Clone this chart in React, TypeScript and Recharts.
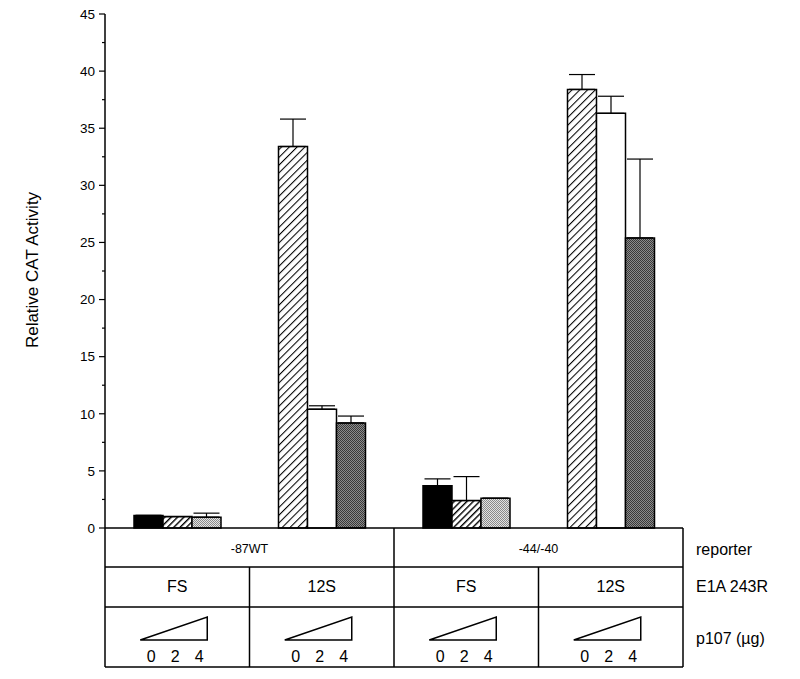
// CAT activity bar chart with reporter / E1A / p107 table underneath
import { BarChart, Bar, XAxis, YAxis, Cell, ErrorBar } from 'recharts';

const categories = ['-87WT FS', '-87WT 12S', '-44/-40 FS', '-44/-40 12S'];
const reporters = ['-87WT', '-44/-40'];
const e1aLabels = ['FS', '12S', 'FS', '12S'];
const doseLabels = ['0', '2', '4'];

// p107 0 / 2 / 4 ug
const dose0 = [1.1, 33.4, 3.7, 38.4];
const dose0Err = [0, 2.4, 0.6, 1.3];
const dose2 = [1.0, 10.4, 2.4, 36.3];
const dose2Err = [0, 0.3, 2.1, 1.5];
const dose4 = [0.95, 9.2, 2.6, 25.4];
const dose4Err = [0.35, 0.6, 0, 6.9];

const yTicks = [0, 2.5, 5, 7.5, 10, 12.5, 15, 17.5, 20, 22.5, 25, 27.5, 30, 32.5, 35, 37.5, 40, 42.5, 45];

// fills per bar group (FS / 12S alternate)
const fill0 = ['#000', 'url(#hatchLight)', '#000', 'url(#hatchLight)'];
const fill1 = ['url(#hatchDark)', '#fff', 'url(#hatchDark)', '#fff'];
const fill2 = ['url(#dotLight)', 'url(#dotDark)', 'url(#dotLight)', 'url(#dotDark)'];

const W = 800;
const H = 679;
const LEFT = 105;
const RIGHT = 683;
const TOP = 14;
const AXIS_Y = 528;
const ROW1 = 567;
const ROW2 = 607;
const BOTTOM = 667;
const FONT = '"Liberation Sans", Arial, Helvetica, sans-serif';

const data = categories.map((name, i) => ({
  name,
  d0: dose0[i],
  e0: [0, dose0Err[i]],
  d2: dose2[i],
  e2: [0, dose2Err[i]],
  d4: dose4[i],
  e4: [0, dose4Err[i]],
}));

function YTick(props: any) {
  const { x, y, payload } = props;
  const v = payload.value as number;
  const major = v % 5 === 0;
  const ax = x + 8;
  return (
    <g>
      <line x1={major ? ax - 6 : ax - 3} x2={ax} y1={y} y2={y} stroke="#000" strokeWidth={1.2} />
      {major && (
        <text x={x - 2} y={y} dy="0.35em" textAnchor="end" fontSize={13.5} fill="#000" fontFamily={FONT}>
          {v}
        </text>
      )}
    </g>
  );
}

function Table() {
  const band = (RIGHT - LEFT) / categories.length;
  const half = (RIGHT - LEFT) / reporters.length;
  return (
    <svg width={W} height={H} style={{ position: 'absolute', left: 0, top: 0, pointerEvents: 'none' }}>
      <g stroke="#000" strokeWidth={1.5} fill="none">
        <line x1={LEFT} x2={RIGHT} y1={AXIS_Y} y2={AXIS_Y} />
        <line x1={LEFT} x2={LEFT} y1={AXIS_Y} y2={BOTTOM} />
        <line x1={RIGHT} x2={RIGHT} y1={AXIS_Y} y2={BOTTOM} />
        <line x1={LEFT} x2={RIGHT} y1={ROW1} y2={ROW1} />
        <line x1={LEFT} x2={RIGHT} y1={ROW2} y2={ROW2} />
        <line x1={LEFT} x2={RIGHT} y1={BOTTOM} y2={BOTTOM} />
        <line x1={LEFT + half} x2={LEFT + half} y1={AXIS_Y} y2={BOTTOM} />
        <line x1={LEFT + band} x2={LEFT + band} y1={ROW1} y2={BOTTOM} />
        <line x1={LEFT + 3 * band} x2={LEFT + 3 * band} y1={ROW1} y2={BOTTOM} />
      </g>
      {reporters.map((r, i) => (
        <text key={r} x={LEFT + half * (i + 0.5)} y={549} dy="0.35em" textAnchor="middle" fontSize={12.5} fontFamily={FONT}>
          {r}
        </text>
      ))}
      {e1aLabels.map((t, i) => (
        <text key={i} x={LEFT + band * (i + 0.5)} y={586} dy="0.35em" textAnchor="middle" fontSize={16} fontFamily={FONT}>
          {t}
        </text>
      ))}
      {e1aLabels.map((_, i) => {
        const cx = LEFT + band * (i + 0.5);
        return (
          <g key={i}>
            <polygon
              points={`${cx - 37},640 ${cx + 30},617 ${cx + 30},640`}
              fill="none"
              stroke="#000"
              strokeWidth={1.5}
            />
            {doseLabels.map((d, j) => (
              <text key={d} x={cx - 26 + j * 24} y={656} dy="0.35em" textAnchor="middle" fontSize={16} fontFamily={FONT}>
                {d}
              </text>
            ))}
          </g>
        );
      })}
      <g fontSize={16} fontFamily={FONT} fill="#000">
        <text x={696} y={549} dy="0.35em">reporter</text>
        <text x={696} y={586} dy="0.35em">E1A 243R</text>
        <text x={696} y={638} dy="0.35em">p107 (µg)</text>
      </g>
      <text
        x={32}
        y={270}
        transform="rotate(-90 32 270)"
        textAnchor="middle"
        dy="0.35em"
        fontSize={17}
        fontFamily={FONT}
      >
        Relative CAT Activity
      </text>
    </svg>
  );
}

export default function App() {
  return (
    <div style={{ position: 'absolute', left: 0, top: 0, width: W, height: H, background: '#fff' }}>
      <BarChart
        width={W}
        height={H}
        data={data}
        margin={{ top: TOP, right: W - RIGHT, bottom: H - AXIS_Y, left: 10 }}
        barGap={0}
        barSize={29}
      >
        <defs>
          <pattern id="hatchLight" patternUnits="userSpaceOnUse" width={5.5} height={5.5} patternTransform="rotate(45)">
            <rect width={5.5} height={5.5} fill="#fff" />
            <line x1={0} y1={0} x2={0} y2={5.5} stroke="#000" strokeWidth={2.1} />
          </pattern>
          <pattern id="hatchDark" patternUnits="userSpaceOnUse" width={4.5} height={4.5} patternTransform="rotate(45)">
            <rect width={4.5} height={4.5} fill="#fff" />
            <line x1={0} y1={0} x2={0} y2={4.5} stroke="#000" strokeWidth={2.8} />
          </pattern>
          <pattern id="dotLight" patternUnits="userSpaceOnUse" width={2} height={2}>
            <rect width={2} height={2} fill="#e2e2e2" />
            <rect x={0} y={0} width={1} height={1} fill="#8a8a8a" />
            <rect x={1} y={1} width={1} height={1} fill="#8a8a8a" />
          </pattern>
          <pattern id="dotDark" patternUnits="userSpaceOnUse" width={2} height={2}>
            <rect width={2} height={2} fill="#8c8c8c" />
            <rect x={0} y={0} width={1} height={1} fill="#3a3a3a" />
            <rect x={1} y={1} width={1} height={1} fill="#3a3a3a" />
          </pattern>
        </defs>
        <XAxis dataKey="name" height={0} tick={false} tickLine={false} axisLine={{ stroke: '#000', strokeWidth: 1.5 }} />
        <YAxis
          domain={[0, 45]}
          ticks={yTicks}
          interval={0}
          width={95}
          tickSize={6}
          tickMargin={2}
          tickLine={false}
          tick={<YTick />}
          axisLine={{ stroke: '#000', strokeWidth: 1.5 }}
        />
        <Bar dataKey="d0" stroke="#000" strokeWidth={1.5} isAnimationActive={false}>
          {data.map((_, i) => (
            <Cell key={i} fill={fill0[i]} />
          ))}
          <ErrorBar dataKey="e0" direction="y" width={13} stroke="#000" strokeWidth={1.2} />
        </Bar>
        <Bar dataKey="d2" stroke="#000" strokeWidth={1.5} isAnimationActive={false}>
          {data.map((_, i) => (
            <Cell key={i} fill={fill1[i]} />
          ))}
          <ErrorBar dataKey="e2" direction="y" width={13} stroke="#000" strokeWidth={1.2} />
        </Bar>
        <Bar dataKey="d4" stroke="#000" strokeWidth={1.5} isAnimationActive={false}>
          {data.map((_, i) => (
            <Cell key={i} fill={fill2[i]} />
          ))}
          <ErrorBar dataKey="e4" direction="y" width={13} stroke="#000" strokeWidth={1.2} />
        </Bar>
      </BarChart>
      <Table />
    </div>
  );
}
